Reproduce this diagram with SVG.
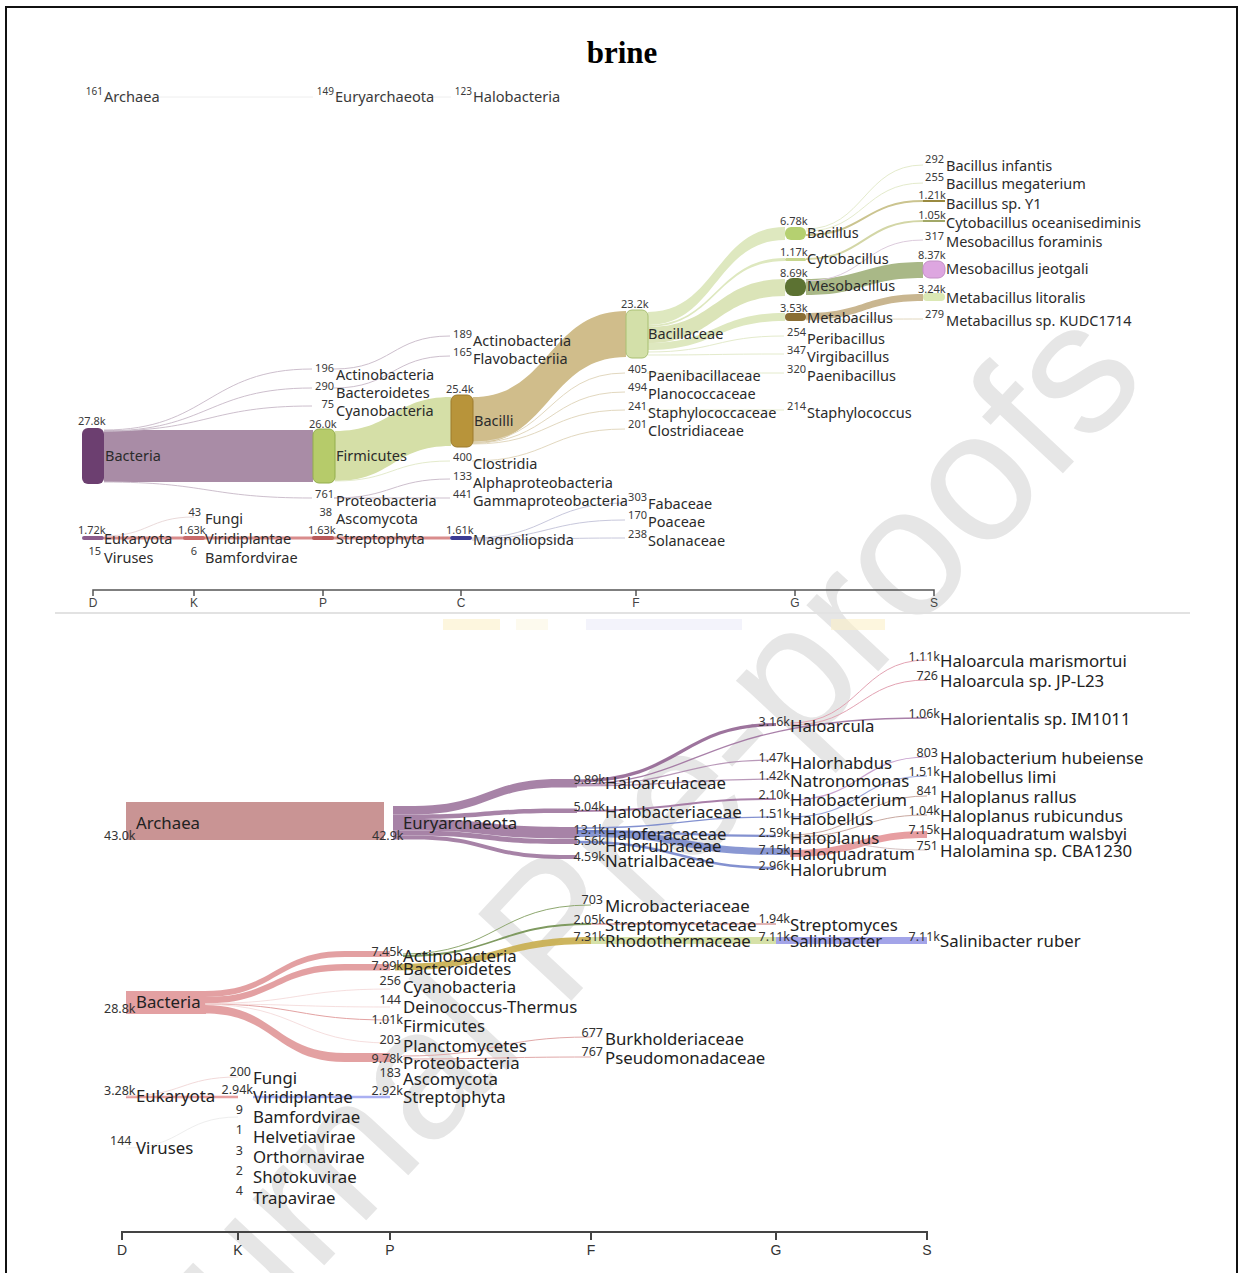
<svg xmlns="http://www.w3.org/2000/svg" width="1243" height="1273" viewBox="0 0 1243 1273">
<style>
.t{font-family:"Noto Sans",Lato,sans-serif;font-size:14.5px;fill:#2b2b2b}
.n{font-family:"Noto Sans",Lato,sans-serif;font-size:11px;fill:#3a3a3a}
.nr{font-family:"Noto Sans",Lato,sans-serif;font-size:11px;fill:#3a3a3a;text-anchor:end}
.t2{font-family:"Noto Sans",Lato,sans-serif;font-size:16.8px;fill:#222}
.n2{font-family:"Noto Sans",Lato,sans-serif;font-size:12.5px;fill:#333}
.n2r{font-family:"Noto Sans",Lato,sans-serif;font-size:12.5px;fill:#333;text-anchor:end}
.ar{font-family:"Noto Sans",sans-serif;font-size:14.6px;fill:#3a3a3a}
.arn{font-family:"Noto Sans",sans-serif;font-size:10px;fill:#3a3a3a;text-anchor:end}
.ax{font-family:"Liberation Sans",sans-serif;font-size:12px;fill:#444;text-anchor:middle}
.ax2{font-family:"Liberation Sans",sans-serif;font-size:14px;fill:#333;text-anchor:middle}
.thin{fill:none;stroke:#cdbfcd;stroke-width:1}
.tan{fill:none;stroke:#e2d8bf;stroke-width:1}
.grn{fill:none;stroke:#e4ebcc;stroke-width:1}
</style>
<rect x="0" y="0" width="1243" height="1273" fill="#fff"/>
<text x="1150" y="380" transform="rotate(-47 1150 380)" text-anchor="end" font-family="Liberation Sans,sans-serif" font-size="185" fill="#e6e6e6">Journal Pre-proofs</text>
<rect x="6" y="7" width="1231" height="1280" fill="none" stroke="#111" stroke-width="2"/>
<text x="622" y="63" text-anchor="middle" font-family="Liberation Serif,serif" font-weight="bold" font-size="31" fill="#000">brine</text>
<line x1="55" y1="613" x2="1190" y2="613" stroke="#e2e2e2" stroke-width="2"/>
<g opacity="0.6">
<rect x="443" y="619" width="57" height="11" fill="#fbf0c8"/>
<rect x="516" y="619" width="32" height="11" fill="#fcf8e4"/>
<rect x="586" y="619" width="156" height="11" fill="#ececfa"/>
<rect x="831" y="619" width="54" height="11" fill="#fbf0c8"/>
</g>

<!-- connectors -->
<g id="connectors">
 <path d="M104,97 H313 M335,97 H451" stroke="#eeeeee" stroke-width="1" fill="none"/>
 <path d="M104,430 L313,430 L313,482 L104,482 Z" fill="#a98ca6"/>
 <path d="M335,431 C393,431 393,397 451,397 L451,446 C393,446 393,481 335,481 Z" fill="#d5dfa7"/>
 <path d="M473,397 C549,397 549,311 626,311 L626,357 C549,357 549,444 473,444 Z" fill="#d0bd8b"/>
 <path d="M648,312 C716,312 716,227 785,227 L785,240 C716,240 716,325 648,325 Z" fill="#dee8bf"/>
 <path d="M648,325 C716,325 716,258 785,258 L785,261 C716,261 716,327 648,327 Z" fill="#dee8bf"/>
 <path d="M648,327 C716,327 716,279 785,279 L785,296 C716,296 716,343 648,343 Z" fill="#dbe4b8"/>
 <path d="M648,343 C716,343 716,313 785,313 L785,321 C716,321 716,350 648,350 Z" fill="#dee8bf"/>
 <path d="M806,279 C864,279 864,262 923,262 L923,278 C864,278 864,295 806,295 Z" fill="#a9b887"/>
 <path d="M806,313 C864,313 864,294 923,294 L923,301 C864,301 864,320 806,320 Z" fill="#c9b690"/>
 <path class="thin" d="M104,430 C208,430 208,369 312,369 M104,431 C208,431 208,388 312,388 M104,431 C208,431 208,406 312,406 M104,482 C208,482 208,498 312,498"/>
 <path class="thin" d="M334,369 C392,369 392,336 450,336 M334,388 C392,388 392,356 450,356 M334,498 C392,498 392,479 450,479 M334,498 C392,498 392,498 450,498"/>
 <path class="grn" d="M335,481 C392,481 392,461 450,461"/>
 <path class="tan" d="M473,442 C549,442 549,373 625,373 M473,443 C549,443 549,392 625,392 M473,444 C549,444 549,410 625,410 M472,461 C549,461 549,429 625,429"/>
 <path class="grn" d="M648,352 C716,352 716,336 784,336 M648,355 C716,355 716,354 784,354 M647,373 C716,373 716,373 784,373 M647,410 C716,410 716,410 784,410"/>
 <path class="grn" d="M806,229 C864,229 864,165 923,165 M806,231 C864,231 864,183 923,183"/>
 <path d="M806,235 C864,235 864,201 923,201" fill="none" stroke="#cbc48f" stroke-width="2"/>
 <path d="M806,259 C864,259 864,221 923,221" fill="none" stroke="#d3d6a6" stroke-width="2"/>
 <path d="M806,281 C864,281 864,240 923,240" fill="none" stroke="#dccbdc" stroke-width="1"/>
 <path class="tan" d="M806,320 C864,320 864,319 923,319"/>
 <path d="M104,538 H450" stroke="#d98c8c" stroke-width="3" fill="none"/>
 <path d="M104,536 C149,536 149,517 194,517" fill="none" stroke="#eadada" stroke-width="1"/>
 <path d="M472,538 C548,538 548,503 625,503 M472,539 C548,539 548,520 625,520 M472,540 C548,540 548,538 625,538" fill="none" stroke="#c8c8dc" stroke-width="1"/>

 <rect x="126" y="802" width="258" height="38" fill="#c99494"/>
 <g fill="#946894" opacity="0.82">
  <path d="M393,806 L415,806 C487,806 487,779 560,779 L577,779 L577,787.5 L560,787.5 C487,787.5 487,814.5 415,814.5 L393,814.5 Z"/>
  <path d="M393,814.5 L415,814.5 C487,814.5 487,808.5 560,808.5 L577,808.5 L577,813 L560,813 C487,813 487,819 415,819 L393,819 Z"/>
  <path d="M393,819 L415,819 C487,819 487,827 560,827 L577,827 L577,838.5 L560,838.5 C487,838.5 487,830.5 415,830.5 L393,830.5 Z"/>
  <path d="M393,830.5 L415,830.5 C487,830.5 487,839 560,839 L577,839 L577,844 L560,844 C487,844 487,835.5 415,835.5 L393,835.5 Z"/>
  <path d="M393,835.5 L415,835.5 C487,835.5 487,855 560,855 L577,855 L577,859 L560,859 C487,859 487,839.5 415,839.5 L393,839.5 Z"/>
 </g>
 <path d="M577,781 C680,781 680,724.5 776,724.5" fill="none" stroke="#8c5c8c" stroke-width="3.2" opacity="0.85"/>
 <path d="M577,784 C700,784 700,718 927,718" fill="none" stroke="#9a6a9a" stroke-width="1.3" opacity="0.85"/>
 <path d="M577,785 C680,785 680,760 776,760 M577,786 C680,786 680,779 776,779" fill="none" stroke="#a880a8" stroke-width="1.2" opacity="0.8"/>
 <path d="M577,811 C680,811 680,799 776,799" fill="none" stroke="#9a6a9a" stroke-width="2" opacity="0.85"/>
 <path d="M577,828 C680,828 680,817 776,817" fill="none" stroke="#6d7ec8" stroke-width="1.3" opacity="0.85"/>
 <path d="M577,831 C680,831 680,836 776,836" fill="none" stroke="#6d7ec8" stroke-width="2.3" opacity="0.85"/>
 <path d="M577,830 L591,830 C680,830 680,848 776,848 L790,848 L790,855 L776,855 C680,855 680,837 591,837 L577,837 Z" fill="#6d7ec8" opacity="0.8"/>
 <path d="M577,842 C680,842 680,868 776,868" fill="none" stroke="#6d7ec8" stroke-width="2.6" opacity="0.85"/>
 <path d="M790,723 C860,723 860,660 927,660 M790,725 C860,725 860,680 927,680" fill="none" stroke="#e3a3b3" stroke-width="1"/>
 <path d="M790,800 C860,800 860,757 927,757" fill="none" stroke="#c9a3d0" stroke-width="1.2"/>
 <path d="M790,817 C860,817 860,776 927,776" fill="none" stroke="#9aa4d8" stroke-width="1.2"/>
 <path d="M790,835 C860,835 860,796 927,796 M790,837 C860,837 860,815 927,815" fill="none" stroke="#c8a8a0" stroke-width="1"/>
 <path d="M790,850 C860,850 860,831 927,831 L927,838 C860,838 860,857 790,857 Z" fill="#e38d90" opacity="0.85"/>
 <path d="M790,839 C860,839 860,850 927,850" fill="none" stroke="#c9b0b0" stroke-width="0.8"/>

 <g fill="#dd8c8e" opacity="0.82">
  <rect x="126" y="991" width="80" height="23"/>
  <path d="M205,991 C275,991 275,951 345,951 L390,951 L390,957 L345,957 C275,957 275,997 205,997 Z"/>
  <path d="M205,997 C275,997 275,964 345,964 L390,964 L390,970.5 L345,970.5 C275,970.5 275,1003.5 205,1003.5 Z"/>
  <path d="M205,1005 C275,1005 275,1053 345,1053 L390,1053 L390,1062 L345,1062 C275,1062 275,1013.5 205,1013.5 Z"/>
 </g>
 <path d="M205,1004 C298,1004 298,1020 390,1020" fill="none" stroke="#e3a2a2" stroke-width="1"/>
 <path d="M205,1003.5 C298,1003.5 298,989 390,989 M205,1004 C298,1004 298,1007 390,1007 M205,1004.5 C298,1004.5 298,1043 390,1043" fill="none" stroke="#f0d0d0" stroke-width="0.7"/>
 <path d="M403,954 C497,954 497,905 591,905" fill="none" stroke="#8fa870" stroke-width="1"/>
 <path d="M403,956 C497,956 497,924 591,924" fill="none" stroke="#7f9a60" stroke-width="1.8"/>
 <path d="M395,964 C497,964 497,937 591,937 L591,944 C497,944 497,970.5 395,970.5 Z" fill="#c8ad4c" opacity="0.9"/>
 <path d="M591,937 L776,937 L776,944 L591,944 Z" fill="#cfdc99" opacity="0.85"/>
 <path d="M591,924 C683,924 683,924 776,924" fill="none" stroke="#c46a6a" stroke-width="1.2"/>
 <path d="M776,937 L927,937 L927,944 L776,944 Z" fill="#8c8de2" opacity="0.8"/>
 <path d="M403,1056 C497,1056 497,1037 591,1037 M403,1059 C497,1059 497,1057 591,1057" fill="none" stroke="#e0a8a8" stroke-width="1"/>
 <path d="M126,1097 H238" stroke="#e7a0a0" stroke-width="2.5" fill="none"/>
 <path d="M126,1096 C182,1096 182,1077 238,1077" fill="none" stroke="#f2dada" stroke-width="1"/>
 <path d="M253,1097 H390" stroke="#aab0f2" stroke-width="2.5" fill="none"/>
 <path d="M126,1148 C182,1148 182,1117 238,1117" fill="none" stroke="#eeeeee" stroke-width="1"/>
</g>

<!-- ===== TOP SANKEY NODES ===== -->
<g id="top-archaea"><text class="arn" x="103" y="95">161</text><text class="ar" x="104" y="102">Archaea</text></g>
<g id="top-euryarchaeota"><text class="arn" x="334" y="95">149</text><text class="ar" x="335" y="102">Euryarchaeota</text></g>
<g id="top-halobacteria"><text class="arn" x="472" y="95">123</text><text class="ar" x="473" y="102">Halobacteria</text></g>

<g id="top-bacteria"><rect x="82" y="428" width="22" height="56" rx="6" fill="#6c3f70"/><text class="n" x="78" y="425">27.8k</text><text class="t" x="105" y="461">Bacteria</text></g>
<g id="top-eukaryota"><rect x="82" y="536" width="22" height="4" rx="2" fill="#8c5c8c"/><text class="n" x="78" y="534">1.72k</text><text class="t" x="104" y="544">Eukaryota</text></g>
<g id="top-viruses"><text class="nr" x="101" y="555">15</text><text class="t" x="104" y="563">Viruses</text></g>

<g id="top-fungi"><text class="nr" x="201" y="516">43</text><text class="t" x="205" y="524">Fungi</text></g>
<g id="top-viridiplantae"><rect x="183" y="536" width="22" height="4" rx="2" fill="#c86a6a"/><text class="n" x="178" y="534">1.63k</text><text class="t" x="205" y="544">Viridiplantae</text></g>
<g id="top-bamfordvirae"><text class="nr" x="197" y="555">6</text><text class="t" x="205" y="563">Bamfordvirae</text></g>

<g id="top-p-actinobacteria"><text class="nr" x="334" y="372">196</text><text class="t" x="336" y="380">Actinobacteria</text></g>
<g id="top-bacteroidetes"><text class="nr" x="334" y="390">290</text><text class="t" x="336" y="398">Bacteroidetes</text></g>
<g id="top-cyanobacteria"><text class="nr" x="334" y="408">75</text><text class="t" x="336" y="416">Cyanobacteria</text></g>
<g id="top-firmicutes"><rect x="313" y="429" width="22" height="54" rx="6" fill="#b6cb6a" stroke="#93ad4c" stroke-width="1"/><text class="n" x="309" y="428">26.0k</text><text class="t" x="336" y="461">Firmicutes</text></g>
<g id="top-proteobacteria"><text class="nr" x="334" y="498">761</text><text class="t" x="336" y="506">Proteobacteria</text></g>
<g id="top-ascomycota"><text class="nr" x="332" y="516">38</text><text class="t" x="336" y="524">Ascomycota</text></g>
<g id="top-streptophyta"><rect x="312" y="536" width="22" height="4" rx="2" fill="#b85a5a"/><text class="n" x="308" y="534">1.63k</text><text class="t" x="336" y="544">Streptophyta</text></g>

<g id="top-c-actinobacteria"><text class="nr" x="472" y="338">189</text><text class="t" x="473" y="346">Actinobacteria</text></g>
<g id="top-flavobacteriia"><text class="nr" x="472" y="356">165</text><text class="t" x="473" y="364">Flavobacteriia</text></g>
<g id="top-bacilli"><rect x="451" y="395" width="22" height="52" rx="6" fill="#b8943a" stroke="#9c7b2c" stroke-width="1"/><text class="n" x="446" y="393">25.4k</text><text class="t" x="474" y="426">Bacilli</text></g>
<g id="top-clostridia"><text class="nr" x="472" y="461">400</text><text class="t" x="473" y="469">Clostridia</text></g>
<g id="top-alphaproteobacteria"><text class="nr" x="472" y="480">133</text><text class="t" x="473" y="488">Alphaproteobacteria</text></g>
<g id="top-gammaproteobacteria"><text class="nr" x="472" y="498">441</text><text class="t" x="473" y="506">Gammaproteobacteria</text></g>
<g id="top-magnoliopsida"><rect x="450" y="536" width="22" height="4" rx="2" fill="#3c3c94"/><text class="n" x="446" y="534">1.61k</text><text class="t" x="473" y="545">Magnoliopsida</text></g>

<g id="top-bacillaceae"><rect x="626" y="310" width="22" height="48" rx="6" fill="#d3e0a9" stroke="#a9c073" stroke-width="1"/><text class="n" x="621" y="308">23.2k</text><text class="t" x="648" y="339">Bacillaceae</text></g>
<g id="top-paenibacillaceae"><text class="nr" x="647" y="373">405</text><text class="t" x="648" y="381">Paenibacillaceae</text></g>
<g id="top-planococcaceae"><text class="nr" x="647" y="391">494</text><text class="t" x="648" y="399">Planococcaceae</text></g>
<g id="top-staphylococcaceae"><text class="nr" x="647" y="410">241</text><text class="t" x="648" y="418">Staphylococcaceae</text></g>
<g id="top-clostridiaceae"><text class="nr" x="647" y="428">201</text><text class="t" x="648" y="436">Clostridiaceae</text></g>
<g id="top-fabaceae"><text class="nr" x="647" y="501">303</text><text class="t" x="648" y="509">Fabaceae</text></g>
<g id="top-poaceae"><text class="nr" x="647" y="519">170</text><text class="t" x="648" y="527">Poaceae</text></g>
<g id="top-solanaceae"><text class="nr" x="647" y="538">238</text><text class="t" x="648" y="546">Solanaceae</text></g>

<g id="top-bacillus"><rect x="785" y="227" width="21" height="13" rx="6" fill="#b5d070"/><text class="n" x="780" y="225">6.78k</text><text class="t" x="807" y="238">Bacillus</text></g>
<g id="top-cytobacillus"><rect x="785" y="258" width="21" height="3" rx="1.5" fill="#c7d68e"/><text class="n" x="780" y="256">1.17k</text><text class="t" x="807" y="264">Cytobacillus</text></g>
<g id="top-mesobacillus"><rect x="785" y="278" width="21" height="18" rx="8" fill="#5c7232"/><text class="n" x="780" y="277">8.69k</text><text class="t" x="807" y="291">Mesobacillus</text></g>
<g id="top-metabacillus"><rect x="785" y="313" width="21" height="8" rx="4" fill="#8a6e34"/><text class="n" x="780" y="312">3.53k</text><text class="t" x="807" y="323">Metabacillus</text></g>
<g id="top-peribacillus"><text class="nr" x="806" y="336">254</text><text class="t" x="807" y="344">Peribacillus</text></g>
<g id="top-virgibacillus"><text class="nr" x="806" y="354">347</text><text class="t" x="807" y="362">Virgibacillus</text></g>
<g id="top-paenibacillus"><text class="nr" x="806" y="373">320</text><text class="t" x="807" y="381">Paenibacillus</text></g>
<g id="top-staphylococcus"><text class="nr" x="806" y="410">214</text><text class="t" x="807" y="418">Staphylococcus</text></g>

<g id="top-bacillus-infantis"><text class="nr" x="944" y="163">292</text><text class="t" x="946" y="171">Bacillus infantis</text></g>
<g id="top-bacillus-megaterium"><text class="nr" x="944" y="181">255</text><text class="t" x="946" y="189">Bacillus megaterium</text></g>
<g id="top-bacillus-sp-y1"><rect x="923" y="200" width="22" height="2" fill="#9a8a40"/><text class="nr" x="946" y="199">1.21k</text><text class="t" x="946" y="209">Bacillus sp. Y1</text></g>
<g id="top-cytobacillus-oceanisediminis"><rect x="923" y="220" width="22" height="2" fill="#a2a868"/><text class="nr" x="946" y="219">1.05k</text><text class="t" x="946" y="228">Cytobacillus oceanisediminis</text></g>
<g id="top-mesobacillus-foraminis"><text class="nr" x="944" y="240">317</text><text class="t" x="946" y="247">Mesobacillus foraminis</text></g>
<g id="top-mesobacillus-jeotgali"><rect x="923" y="261" width="22" height="17" rx="7" fill="#dda6e0" stroke="#c38fc6" stroke-width="1"/><text class="n" x="918" y="259">8.37k</text><text class="t" x="946" y="274">Mesobacillus jeotgali</text></g>
<g id="top-metabacillus-litoralis"><rect x="923" y="293" width="22" height="8" rx="4" fill="#dbe8b4"/><text class="n" x="918" y="293">3.24k</text><text class="t" x="946" y="303">Metabacillus litoralis</text></g>
<g id="top-metabacillus-kudc1714"><text class="nr" x="944" y="318">279</text><text class="t" x="946" y="326">Metabacillus sp. KUDC1714</text></g>

<g id="top-axis" fill="none" stroke="#555" stroke-width="1.5">
 <path d="M93,596 V590 H934 V596 M194,590 V596 M323,590 V596 M461,590 V596 M636,590 V596 M795,590 V596"/>
</g>
<g id="top-axis-labels">
 <text class="ax" x="93" y="607">D</text><text class="ax" x="194" y="607">K</text><text class="ax" x="323" y="607">P</text><text class="ax" x="461" y="607">C</text><text class="ax" x="636" y="607">F</text><text class="ax" x="795" y="607">G</text><text class="ax" x="934" y="607">S</text>
</g>

<!-- ===== BOTTOM SANKEY NODES ===== -->
<g id="b-archaea"><text class="n2" x="104" y="840">43.0k</text><text class="t2" x="136" y="829">Archaea</text></g>
<g id="b-euryarchaeota"><text class="n2" x="372" y="840">42.9k</text><text class="t2" x="403" y="829">Euryarchaeota</text></g>
<g id="b-bacteria"><text class="n2" x="104" y="1013">28.8k</text><text class="t2" x="136" y="1008">Bacteria</text></g>
<g id="b-eukaryota"><text class="n2" x="104" y="1095">3.28k</text><text class="t2" x="136" y="1102">Eukaryota</text></g>
<g id="b-viruses"><text class="n2" x="110" y="1145">144</text><text class="t2" x="136" y="1154">Viruses</text></g>

<g id="b-fungi"><text class="n2r" x="251" y="1076">200</text><text class="t2" x="253" y="1084">Fungi</text></g>
<g id="b-viridiplantae"><text class="n2r" x="253" y="1094">2.94k</text><text class="t2" x="253" y="1103">Viridiplantae</text></g>
<g id="b-bamfordvirae"><text class="n2r" x="243" y="1114">9</text><text class="t2" x="253" y="1123">Bamfordvirae</text></g>
<g id="b-helvetiavirae"><text class="n2r" x="243" y="1134">1</text><text class="t2" x="253" y="1143">Helvetiavirae</text></g>
<g id="b-orthornavirae"><text class="n2r" x="243" y="1155">3</text><text class="t2" x="253" y="1163">Orthornavirae</text></g>
<g id="b-shotokuvirae"><text class="n2r" x="243" y="1175">2</text><text class="t2" x="253" y="1183">Shotokuvirae</text></g>
<g id="b-trapavirae"><text class="n2r" x="243" y="1195">4</text><text class="t2" x="253" y="1204">Trapavirae</text></g>

<g id="b-actinobacteria"><text class="n2r" x="403" y="956">7.45k</text><text class="t2" x="403" y="962">Actinobacteria</text></g>
<g id="b-bacteroidetes"><text class="n2r" x="403" y="970">7.99k</text><text class="t2" x="403" y="975">Bacteroidetes</text></g>
<g id="b-cyanobacteria"><text class="n2r" x="401" y="985">256</text><text class="t2" x="403" y="993">Cyanobacteria</text></g>
<g id="b-deinococcus"><text class="n2r" x="401" y="1004">144</text><text class="t2" x="403" y="1013">Deinococcus-Thermus</text></g>
<g id="b-firmicutes"><text class="n2r" x="403" y="1024">1.01k</text><text class="t2" x="403" y="1032">Firmicutes</text></g>
<g id="b-planctomycetes"><text class="n2r" x="401" y="1044">203</text><text class="t2" x="403" y="1052">Planctomycetes</text></g>
<g id="b-proteobacteria"><text class="n2r" x="403" y="1063">9.78k</text><text class="t2" x="403" y="1069">Proteobacteria</text></g>
<g id="b-ascomycota"><text class="n2r" x="401" y="1077">183</text><text class="t2" x="403" y="1085">Ascomycota</text></g>
<g id="b-streptophyta"><text class="n2r" x="403" y="1095">2.92k</text><text class="t2" x="403" y="1103">Streptophyta</text></g>

<g id="b-haloarculaceae"><text class="n2r" x="605" y="784">9.89k</text><text class="t2" x="605" y="789">Haloarculaceae</text></g>
<g id="b-halobacteriaceae"><text class="n2r" x="605" y="811">5.04k</text><text class="t2" x="605" y="818">Halobacteriaceae</text></g>
<g id="b-haloferacaceae"><text class="n2r" x="605" y="834">13.1k</text><text class="t2" x="605" y="840">Haloferacaceae</text></g>
<g id="b-halorubraceae"><text class="n2r" x="605" y="845">5.56k</text><text class="t2" x="605" y="852">Halorubraceae</text></g>
<g id="b-natrialbaceae"><text class="n2r" x="605" y="861">4.59k</text><text class="t2" x="605" y="867">Natrialbaceae</text></g>
<g id="b-microbacteriaceae"><text class="n2r" x="603" y="904">703</text><text class="t2" x="605" y="912">Microbacteriaceae</text></g>
<g id="b-streptomycetaceae"><text class="n2r" x="605" y="924">2.05k</text><text class="t2" x="605" y="931">Streptomycetaceae</text></g>
<g id="b-rhodothermaceae"><text class="n2r" x="605" y="941">7.31k</text><text class="t2" x="605" y="947">Rhodothermaceae</text></g>
<g id="b-burkholderiaceae"><text class="n2r" x="603" y="1037">677</text><text class="t2" x="605" y="1045">Burkholderiaceae</text></g>
<g id="b-pseudomonadaceae"><text class="n2r" x="603" y="1056">767</text><text class="t2" x="605" y="1064">Pseudomonadaceae</text></g>

<g id="b-haloarcula"><text class="n2r" x="790" y="726">3.16k</text><text class="t2" x="790" y="732">Haloarcula</text></g>
<g id="b-halorhabdus"><text class="n2r" x="790" y="762">1.47k</text><text class="t2" x="790" y="769">Halorhabdus</text></g>
<g id="b-natronomonas"><text class="n2r" x="790" y="780">1.42k</text><text class="t2" x="790" y="787">Natronomonas</text></g>
<g id="b-halobacterium"><text class="n2r" x="790" y="799">2.10k</text><text class="t2" x="790" y="806">Halobacterium</text></g>
<g id="b-halobellus"><text class="n2r" x="790" y="818">1.51k</text><text class="t2" x="790" y="825">Halobellus</text></g>
<g id="b-haloplanus"><text class="n2r" x="790" y="837">2.59k</text><text class="t2" x="790" y="844">Haloplanus</text></g>
<g id="b-haloquadratum"><text class="n2r" x="790" y="854">7.15k</text><text class="t2" x="790" y="860">Haloquadratum</text></g>
<g id="b-halorubrum"><text class="n2r" x="790" y="870">2.96k</text><text class="t2" x="790" y="876">Halorubrum</text></g>
<g id="b-streptomyces"><text class="n2r" x="790" y="923">1.94k</text><text class="t2" x="790" y="931">Streptomyces</text></g>
<g id="b-salinibacter"><text class="n2r" x="790" y="941">7.11k</text><text class="t2" x="790" y="947">Salinibacter</text></g>

<g id="b-haloarcula-marismortui"><text class="n2r" x="940" y="661">1.11k</text><text class="t2" x="940" y="667">Haloarcula marismortui</text></g>
<g id="b-haloarcula-jp-l23"><text class="n2r" x="938" y="680">726</text><text class="t2" x="940" y="687">Haloarcula sp. JP-L23</text></g>
<g id="b-halorientalis"><text class="n2r" x="940" y="718">1.06k</text><text class="t2" x="940" y="725">Halorientalis sp. IM1011</text></g>
<g id="b-halobacterium-hubeiense"><text class="n2r" x="938" y="757">803</text><text class="t2" x="940" y="764">Halobacterium hubeiense</text></g>
<g id="b-halobellus-limi"><text class="n2r" x="940" y="776">1.51k</text><text class="t2" x="940" y="783">Halobellus limi</text></g>
<g id="b-haloplanus-rallus"><text class="n2r" x="938" y="795">841</text><text class="t2" x="940" y="803">Haloplanus rallus</text></g>
<g id="b-haloplanus-rubicundus"><text class="n2r" x="940" y="815">1.04k</text><text class="t2" x="940" y="822">Haloplanus rubicundus</text></g>
<g id="b-haloquadratum-walsbyi"><text class="n2r" x="940" y="834">7.15k</text><text class="t2" x="940" y="840">Haloquadratum walsbyi</text></g>
<g id="b-halolamina"><text class="n2r" x="938" y="850">751</text><text class="t2" x="940" y="857">Halolamina sp. CBA1230</text></g>
<g id="b-salinibacter-ruber"><text class="n2r" x="940" y="941">7.11k</text><text class="t2" x="940" y="947">Salinibacter ruber</text></g>

<g id="bottom-axis" fill="none" stroke="#444" stroke-width="2">
 <path d="M122,1240 V1232 H927 V1240 M238,1232 V1240 M390,1232 V1240 M591,1232 V1240 M776,1232 V1240"/>
</g>
<g id="bottom-axis-labels">
 <text class="ax2" x="122" y="1255">D</text><text class="ax2" x="238" y="1255">K</text><text class="ax2" x="390" y="1255">P</text><text class="ax2" x="591" y="1255">F</text><text class="ax2" x="776" y="1255">G</text><text class="ax2" x="927" y="1255">S</text>
</g>
</svg>
